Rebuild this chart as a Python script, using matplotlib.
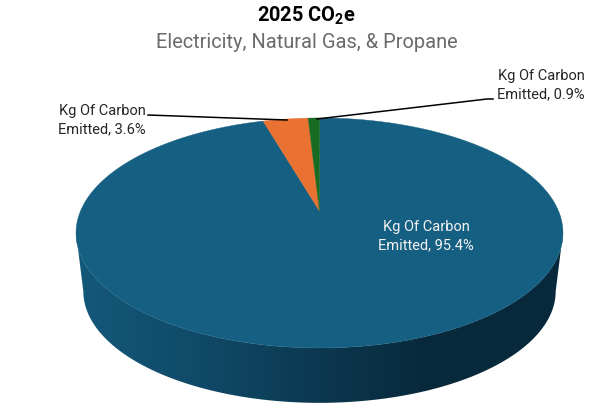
import numpy as np
import matplotlib.pyplot as plt
from matplotlib.patches import Polygon
from matplotlib.colors import LinearSegmentedColormap

plt.rcParams['font.family'] = ['Roboto', 'DejaVu Sans']
plt.rcParams['mathtext.fontset'] = 'custom'
plt.rcParams['mathtext.bf'] = 'Roboto:bold'

labels = ['Kg Of Carbon\nEmitted, 95.4%', 'Kg Of Carbon\nEmitted, 3.6%', 'Kg Of Carbon\nEmitted, 0.9%']
values = [95.4, 3.6, 0.9]
colors = ['#156082', '#E97132', '#196B24']

# pie tilted in perspective, so the centre sits above the middle of the ellipse
cx, cy = 319.5, 211
A, B, k = 239, 110.8, 0.191


def project(theta, scale=1.0, dy=0):
    # theta is clockwise from 12 o'clock
    u = np.sin(theta)
    v = np.cos(theta)
    w = 1 + k * v
    return cx + scale * A * u / w, cy + dy - scale * B * v / w


fig = plt.figure(figsize=(5.97, 4.04), dpi=100)
ax = fig.add_axes([0, 0, 1, 1])
ax.set_xlim(0, 597)
ax.set_ylim(404, 0)
ax.axis('off')

# side of the pie, between the widest points of the top and bottom ellipses
widest = np.arccos(-k)
t = np.linspace(widest, 2 * np.pi - widest, 300)
xt, yt = project(t)
xb, yb = project(t, scale=0.97, dy=59)
side = Polygon(np.r_[np.c_[xt, yt], np.c_[xb, yb][::-1]], closed=True, fc='none', ec='none')
ax.add_patch(side)
side_cmap = LinearSegmentedColormap.from_list('side', [(0, '#14587A'), (0.25, '#104A68'), (0.72, '#08293B'), (1, '#08293B')])
grad = np.linspace(0, 1, 256).reshape(1, -1)
im = ax.imshow(grad, extent=[76, 563, 404, 200], cmap=side_cmap, aspect='auto', zorder=1)
im.set_clip_path(side)
ax.set_xlim(0, 597)
ax.set_ylim(404, 0)

# top of the pie, clockwise from 12 o'clock
fracs = np.array(values) / sum(values)
edges = np.r_[0, np.cumsum(fracs)] * 2 * np.pi
for i in range(len(values)):
    t = np.linspace(edges[i], edges[i + 1], 300)
    x, y = project(t)
    ax.add_patch(Polygon(np.r_[[[cx, cy]], np.c_[x, y]], closed=True, fc=colors[i], ec=colors[i], lw=0.3, zorder=2))

# leader lines
ax.plot([148, 287], [115, 120], color='black', lw=1.1, zorder=3)
ax.plot([317, 487, 493], [119, 99, 99], color='black', lw=1.1, zorder=3)

ax.text(306.5, 16, '2025 CO$_{\\mathbf{2}}$e', ha='center', va='center', fontsize=14.4, fontweight='bold', color='black')
ax.text(307, 43, 'Electricity, Natural Gas, & Propane', ha='center', va='center', fontsize=14.4, color='#6B6B6B')

ax.text(426, 236, labels[0], ha='center', va='center', ma='center', fontsize=10.5, color='#F2F2F2', linespacing=1.4, zorder=4)
ax.text(102, 120.5, labels[1], ha='center', va='center', ma='center', fontsize=10.5, color='#262626', linespacing=1.4)
ax.text(541, 85, labels[2], ha='center', va='center', ma='center', fontsize=10.5, color='#262626', linespacing=1.4)

fig.savefig('out.png', dpi=100)
